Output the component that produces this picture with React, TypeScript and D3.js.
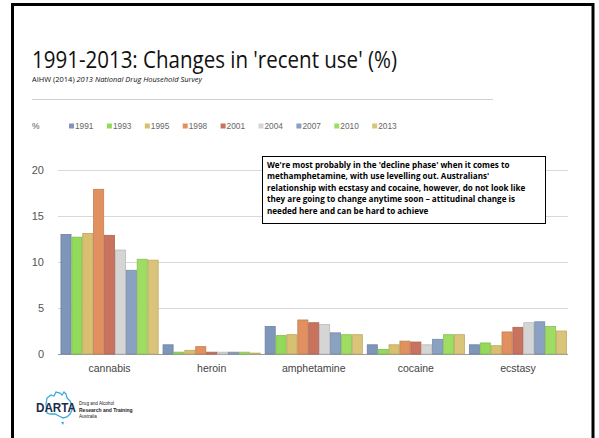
import React from "react";
import * as d3 from "d3";

const categories = ["cannabis", "heroin", "amphetamine", "cocaine", "ecstasy"];
const years = ["1991", "1993", "1995", "1998", "2001", "2004", "2007", "2010", "2013"];
const colors = ["#7f96bb", "#93d95a", "#d8c070", "#e1915f", "#c9735f", "#d5d5d5", "#8aa1c2", "#9fdd62", "#dac47a"];
const cannabis = [13.0, 12.7, 13.1, 17.9, 12.9, 11.3, 9.1, 10.3, 10.2];
const heroin = [1.0, 0.2, 0.4, 0.8, 0.2, 0.2, 0.2, 0.2, 0.1];
const amphetamine = [3.0, 2.0, 2.1, 3.7, 3.4, 3.2, 2.3, 2.1, 2.1];
const cocaine = [1.0, 0.5, 1.0, 1.4, 1.3, 1.0, 1.6, 2.1, 2.1];
const ecstasy = [1.0, 1.2, 0.9, 2.4, 2.9, 3.4, 3.5, 3.0, 2.5];
const series = [cannabis, heroin, amphetamine, cocaine, ecstasy];
const yTicks = [0, 5, 10, 15, 20];
const noteLines = [
  "We're most probably in the 'decline phase' when it comes to",
  "methamphetamine, with use levelling out. Australians'",
  "relationship with ecstasy and cocaine, however, do not look like",
  "they are going to change anytime soon \u2013 attitudinal change is",
  "needed here and can be hard to achieve",
];

export default function App() {
  const W = 599, H = 438;
  const x0 = d3.scaleBand<string>().domain(categories).range([58.5, 569]).paddingInner(0.04).paddingOuter(0.02);
  const x1 = d3.scaleBand<string>().domain(years).range([0, x0.bandwidth()]).padding(0);
  const y = d3.scaleLinear().domain([0, 20]).range([354, 170]);
  const sans = "'Liberation Sans', Arial, sans-serif";
  const body = "'Open Sans', 'Noto Sans', sans-serif";

  return (
    <svg width={W} height={H} style={{ position: "absolute", left: 0, top: 0, background: "#fff" }}>
      <rect x={0} y={0} width={W} height={H} fill="#fff" />
      <rect x={12.5} y={4.5} width={580.5} height={500} fill="none" stroke="#000" strokeWidth={3} />
      <text x={32} y={68} fontFamily={body} fontSize={23} fill="#111" textLength={365} lengthAdjust="spacingAndGlyphs">
        1991-2013: Changes in 'recent use' (%)
      </text>
      <text x={32} y={82} fontFamily={body} fontSize={6.2} fill="#111" textLength={170} lengthAdjust="spacingAndGlyphs">
        AIHW (2014) <tspan fontStyle="italic">2013 National Drug Household Survey</tspan>
      </text>
      <line x1={32} x2={493} y1={99.5} y2={99.5} stroke="#d0d0d0" strokeWidth={1} />

      {/* legend */}
      <text x={32} y={129} fontFamily={sans} fontSize={8.5} fill="#555">%</text>
      {years.map((yr, i) => (
        <g key={yr} transform={`translate(${69 + i * 37.9},0)`}>
          <rect x={0} y={123.5} width={5} height={5} fill={colors[i]} />
          <text x={6} y={129} fontFamily={sans} fontSize={8.3} fill="#666">{yr}</text>
        </g>
      ))}

      {/* grid */}
      {yTicks.map((t) => (
        <g key={t}>
          <line x1={58} x2={568} y1={y(t) + 0.5} y2={y(t) + 0.5} stroke={t === 0 ? "#9a9a9a" : "#d9d9d9"} strokeWidth={1} />
          <text x={44} y={y(t) + 4} textAnchor="end" fontFamily={sans} fontSize={11} fill="#555">{t}</text>
        </g>
      ))}

      {/* bars */}
      {categories.map((c, ci) => (
        <g key={c} transform={`translate(${x0(c)},0)`}>
          {years.map((yr, i) => {
            const v = series[ci][i];
            const c0 = d3.color(colors[i])!.darker(0.4).formatHex();
            return (
              <rect key={yr} x={x1(yr)! + 0.4} y={y(v)} width={x1.bandwidth() - 0.8} height={y(0) - y(v)}
                fill={colors[i]} stroke={c0} strokeWidth={0.8} />
            );
          })}
          <text x={x0.bandwidth() / 2} y={372} textAnchor="middle" fontFamily={sans} fontSize={10.5} fill="#444">{c}</text>
        </g>
      ))}

      {/* note box */}
      <rect x={262.5} y={156.5} width={283} height={67} fill="#fff" stroke="#000" strokeWidth={1} />
      {noteLines.map((l, i) => (
        <text key={i} x={267} y={168 + i * 11.4} fontFamily={body} fontWeight="bold" fontSize={8.1} fill="#000">{l}</text>
      ))}

      {/* logo */}
      <path d="M46,404 L47,398 L51,395 L54,396 L56,392 L60,393 L62,395 L64,392 L66,394 L67,398 L70,401 L72,405 L72,410 L70,414 L67,417 L63,418 L59,416 L55,414 L50,414 L47,413 Z"
        fill="none" stroke="#3aa9dc" strokeWidth={1.3} />
      <path d="M61,422 L64,422 L63,425 Z" fill="#3aa9dc" />
      <text x={36} y={412} fontFamily={sans} fontWeight="bold" fontSize={12.5} fill="#1b2a48" textLength={40} lengthAdjust="spacingAndGlyphs">DARTA</text>
      <text x={79} y={405} fontFamily={sans} fontSize={4.6} fill="#222">Drug and Alcohol</text>
      <text x={79} y={411.5} fontFamily={sans} fontWeight="bold" fontSize={5} fill="#222">Research and Training</text>
      <text x={79} y={418} fontFamily={sans} fontSize={4.6} fill="#222">Australia</text>
    </svg>
  );
}
